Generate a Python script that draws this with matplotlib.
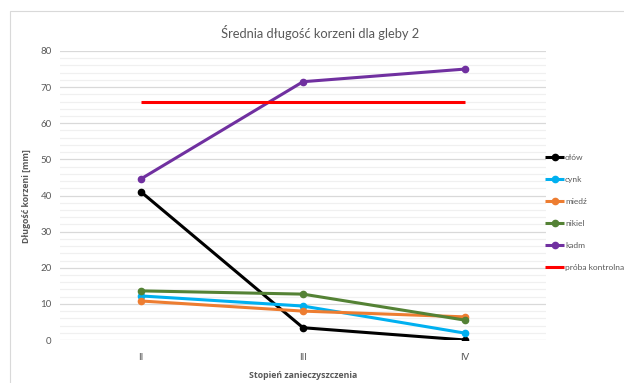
import matplotlib
matplotlib.use("Agg")
import matplotlib.pyplot as plt
from matplotlib.patches import Rectangle
from matplotlib.ticker import MultipleLocator

plt.rcParams['font.family'] = ['Lato', 'DejaVu Sans']

categories = ["II", "III", "IV"]
olow = [41.0, 3.4, 0.0]
cynk = [12.2, 9.4, 1.9]
miedz = [10.8, 8.0, 6.4]
nikiel = [13.6, 12.7, 5.5]
kadm = [44.6, 71.5, 75.0]
proba_kontrolna = [66.0, 66.0, 66.0]

series = [
    ("ołów", olow, "#000000", True),
    ("cynk", cynk, "#00B0F0", True),
    ("miedź", miedz, "#ED7D31", True),
    ("nikiel", nikiel, "#548235", True),
    ("kadm", kadm, "#7030A0", True),
    ("próba kontrolna", proba_kontrolna, "#FF0000", False),
]

W, H = 624, 383
fig = plt.figure(figsize=(W / 100, H / 100), dpi=100)

# chart frame
fig.patches.append(Rectangle((10 / W, -0.1), 1.2, (H - 11) / H + 0.1,
                             transform=fig.transFigure, fill=False,
                             edgecolor="#D9D9D9", linewidth=0.8))

ax = fig.add_axes([60 / W, (H - 340) / H, (546 - 60) / W, (340 - 51) / H])
x = list(range(len(categories)))

for name, vals, color, marker in series:
    ax.plot(x, vals, color=color, linewidth=2.2,
            marker="o" if marker else None, markersize=4.5,
            label=name, solid_capstyle="butt", zorder=3)

ax.set_xlim(-0.5, len(categories) - 0.5)
ax.set_ylim(0, 80)
ax.yaxis.set_major_locator(MultipleLocator(10))
ax.yaxis.set_minor_locator(MultipleLocator(2))
ax.grid(axis="y", which="major", color="#D9D9D9", linewidth=0.9, zorder=0)
ax.grid(axis="y", which="minor", color="#F0F0F0", linewidth=0.9, zorder=0)
ax.set_xticks(x)
ax.set_xticklabels(categories)
for s in ax.spines.values():
    s.set_visible(False)
ax.tick_params(axis="both", which="both", length=0, colors="#595959", labelsize=7)
ax.tick_params(axis="y", pad=6)
ax.tick_params(axis="x", pad=9)

label_font = dict(family=["Open Sans", "DejaVu Sans"], fontweight="bold",
                  fontsize=6.3, color="#595959")
fig.text(303 / W, 1 - 375 / H, "Stopień zanieczyszczenia",
         ha="center", va="center", **label_font)
fig.text(26 / W, 1 - 196 / H, "Długość korzeni [mm]", rotation=90,
         ha="center", va="center", **label_font)

fig.text(320 / W, 1 - 32 / H, "Średnia długość korzeni dla gleby 2",
         ha="center", va="center", fontsize=9.3, color="#595959")

leg = ax.legend(loc="upper left", bbox_to_anchor=(545 / W, 1 - 154 / H),
                bbox_transform=fig.transFigure, frameon=False, fontsize=6,
                handlelength=2.3, handletextpad=0.1, labelspacing=1.8,
                borderaxespad=0, borderpad=0)
for t in leg.get_texts():
    t.set_color("#595959")

fig.savefig("out.png", dpi=100)
